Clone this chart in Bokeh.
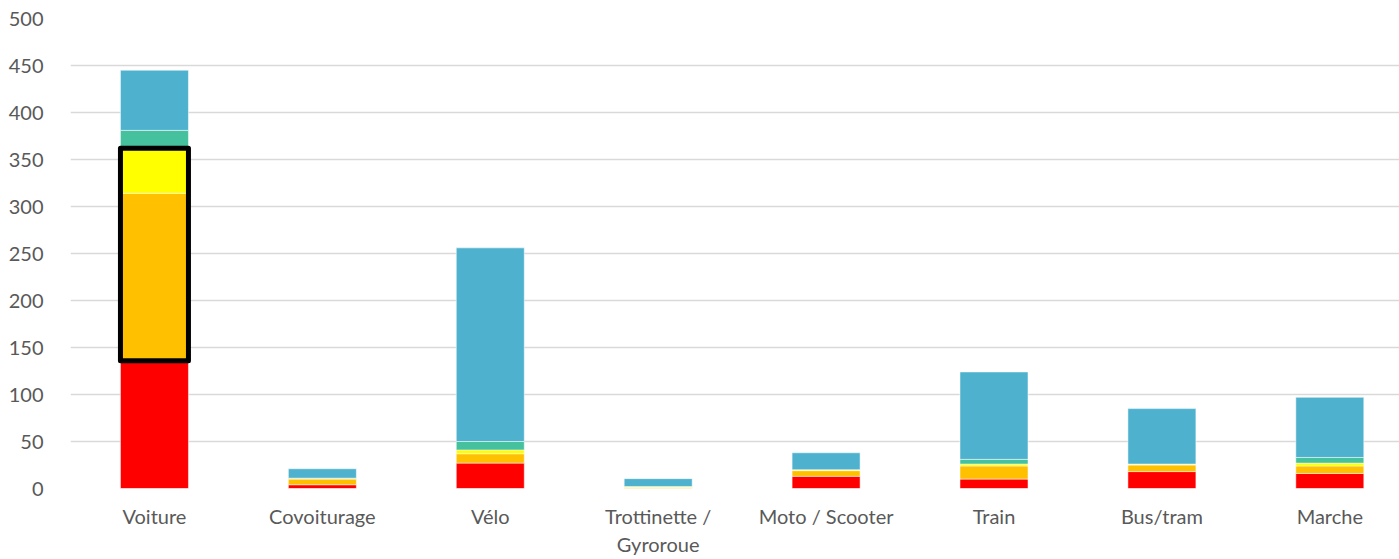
from bokeh.plotting import figure
from bokeh.models import FixedTicker, Range1d, ColumnDataSource
from bokeh.embed import file_html
from bokeh.resources import INLINE

categories = ["Voiture", "Covoiturage", "Vélo", "Trottinette /\nGyroroue",
              "Moto / Scooter", "Train", "Bus/tram", "Marche"]
red = [136, 4, 27, 0, 13, 10, 18, 16]
orange = [178, 6, 10, 1, 6, 14, 7, 8]
yellow = [48, 1, 4, 1, 1, 2, 1, 3]
green = [19, 0, 9, 0, 0, 5, 0, 6]
blue = [64, 10, 206, 8.5, 18, 93, 59, 64]
y_ticks = [0, 50, 100, 150, 200, 250, 300, 350, 400, 450, 500]

series = ["red", "orange", "yellow", "green", "blue"]
colors = ["#ff0000", "#ffc000", "#ffff00", "#45c19d", "#4eb2cf"]
xs = [i + 0.5 for i in range(len(categories))]
src = ColumnDataSource(dict(x=xs, red=red, orange=orange, yellow=yellow, green=green, blue=blue))

p = figure(width=1399, height=559, output_backend="svg", toolbar_location=None,
           x_range=Range1d(0, 7.915), y_range=Range1d(0, 500),
           min_border_left=70, min_border_right=0, min_border_top=18, min_border_bottom=70)
p.outline_line_color = None
p.background_fill_color = "white"

bw = 0.405
p.vbar_stack(series, x="x", width=bw, color=colors, source=src,
             line_color="white", line_alpha=0.5, line_width=1)

# highlighted box around orange+yellow of first bar
i = 0
p.quad(left=[xs[i] - bw / 2], right=[xs[i] + bw / 2],
       bottom=[red[i]], top=[red[i] + orange[i] + yellow[i]],
       fill_color=None, line_color="black", line_width=5, line_join="round")

p.xaxis.ticker = FixedTicker(ticks=xs)
p.xaxis.major_label_overrides = {x: c for x, c in zip(xs, categories)}
p.yaxis.ticker = FixedTicker(ticks=y_ticks)

for ax in (p.xaxis, p.yaxis):
    ax.axis_line_color = None
    ax.major_tick_line_color = None
    ax.minor_tick_line_color = None
    ax.major_label_text_font = "Lato"
    ax.major_label_text_font_size = "20px"
    ax.major_label_text_color = "#595959"
p.yaxis.major_label_standoff = 21
p.xaxis.major_label_standoff = 9

p.xgrid.grid_line_color = None
p.ygrid.ticker = FixedTicker(ticks=y_ticks)
p.ygrid.grid_line_color = "#d9d9d9"
p.ygrid.grid_line_width = 1.5

open("out.html", "w").write(file_html(p, INLINE))
